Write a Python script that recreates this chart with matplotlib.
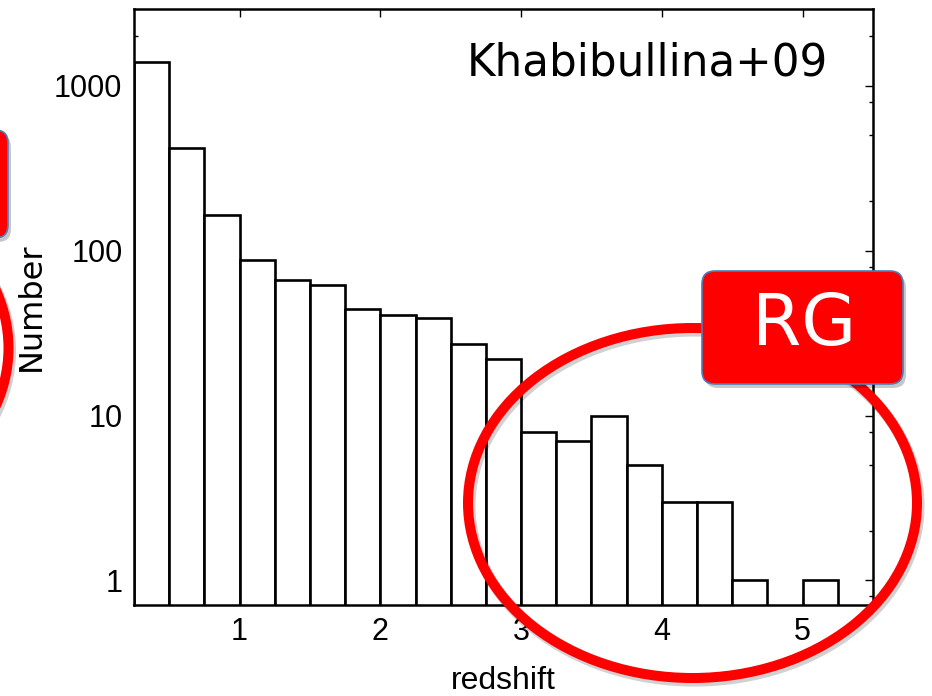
import matplotlib
matplotlib.use("Agg")
import matplotlib.pyplot as plt
from matplotlib.patches import Ellipse, FancyBboxPatch
from matplotlib.ticker import LogLocator, FixedLocator, NullFormatter, FixedFormatter

# ---- data ----
bin_left = [0.25, 0.50, 0.75, 1.00, 1.25, 1.50, 1.75, 2.00, 2.25, 2.50,
            2.75, 3.00, 3.25, 3.50, 3.75, 4.00, 4.25, 4.50, 4.75, 5.00]
counts = [1390, 420, 165, 88, 66, 62, 44, 41, 39, 27,
          22, 8, 7, 10, 5, 3, 3, 1, 0, 1]
bin_width = 0.25
x_ticks = [1, 2, 3, 4, 5]
x_tick_labels = ["1", "2", "3", "4", "5"]
y_ticks = [1, 10, 100, 1000]
y_tick_labels = ["1", "10", "100", "1000"]
x_label = "redshift"
y_label = "Number"
source_label = "Khabibullina+09"
badge_label = "RG"

W, H = 932, 696
fig = plt.figure(figsize=(W / 100, H / 100), dpi=100)
ax = fig.add_axes([134 / W, 1 - 605 / H, (873 - 134) / W, (605 - 9) / H])

sans = ["Liberation Sans", "DejaVu Sans"]

ax.bar(bin_left, counts, width=bin_width, align="edge", color="white",
       edgecolor="black", linewidth=1.9, zorder=2)
ax.set_yscale("log")
ax.set_xlim(0.25, 5.5)
ax.set_ylim(0.71, 2920)

ax.xaxis.set_major_locator(FixedLocator(x_ticks))
ax.xaxis.set_major_formatter(FixedFormatter(x_tick_labels))
ax.yaxis.set_major_locator(FixedLocator(y_ticks))
ax.yaxis.set_major_formatter(FixedFormatter(y_tick_labels))
ax.yaxis.set_minor_locator(LogLocator(base=10, subs=[2, 5, 8]))
ax.yaxis.set_minor_formatter(NullFormatter())
ax.xaxis.set_minor_locator(FixedLocator([]))

ax.tick_params(axis="both", which="major", direction="in", length=5.5, width=1.0,
               top=True, right=True, pad=8.3, labelsize=22)
ax.tick_params(axis="y", which="minor", direction="in", length=3, width=1.0,
               left=True, right=True)
for lab in ax.get_xticklabels() + ax.get_yticklabels():
    lab.set_family(sans)

for sp in ax.spines.values():
    sp.set_linewidth(1.8)

ax.set_xlabel(x_label, fontsize=23, family=sans)
ax.xaxis.set_label_coords(0.5, (605 - 666) / (605 - 9))
ax.set_ylabel(y_label, fontsize=23, family="DejaVu Sans", va="center")
ax.yaxis.set_label_coords((31 - 134) / (873 - 134), 0.5)

ax.text((828 - 134) / (873 - 134), (605 - 75) / (605 - 9), source_label,
        transform=ax.transAxes, ha="right", va="baseline",
        fontsize=31.4, family="DejaVu Sans", color="black")

# ---- annotations (figure pixel coordinates -> inches) ----
tr = fig.dpi_scale_trans
def P(x, y):
    return (x / 100.0, (H - y) / 100.0)

def add_ellipse(cx, cy, w, h):
    sx, sy = P(cx + 2, cy + 3)
    fig.add_artist(Ellipse((sx, sy), w / 100, h / 100, fill=False,
                           edgecolor=(0, 0, 0, 0.18), linewidth=8.0,
                           transform=tr, zorder=4))
    c = P(cx, cy)
    fig.add_artist(Ellipse(c, w / 100, h / 100, fill=False, edgecolor="#ff0000",
                           linewidth=7.2, transform=tr, zorder=5))

def add_box(x0, y0, x1, y1):
    bx, by = P(x0 + 3, y1 + 4)
    fig.add_artist(FancyBboxPatch((bx, by), (x1 - x0) / 100, (y1 - y0) / 100,
                                  boxstyle="round,pad=0,rounding_size=0.13",
                                  facecolor=(0, 0, 0, 0.22), edgecolor="none",
                                  transform=tr, zorder=6))
    x, y = P(x0, y1)
    fig.add_artist(FancyBboxPatch((x, y), (x1 - x0) / 100, (y1 - y0) / 100,
                                  boxstyle="round,pad=0,rounding_size=0.13",
                                  facecolor="#ff0000", edgecolor="#4a7ebb",
                                  linewidth=1.2, transform=tr, zorder=7))

add_ellipse(692.5, 503, 449, 350)
add_box(702, 271, 903, 384)
tx, ty = P(804, 326)
fig.text(tx / (W / 100), ty / (H / 100), badge_label, ha="center", va="center",
         fontsize=51, family="DejaVu Sans", color="white", zorder=8)

# partially visible annotations at the left edge
add_ellipse(-216, 348, 449, 350)
add_box(-120, 130, 8, 238)

fig.savefig("out.png", dpi=100)
